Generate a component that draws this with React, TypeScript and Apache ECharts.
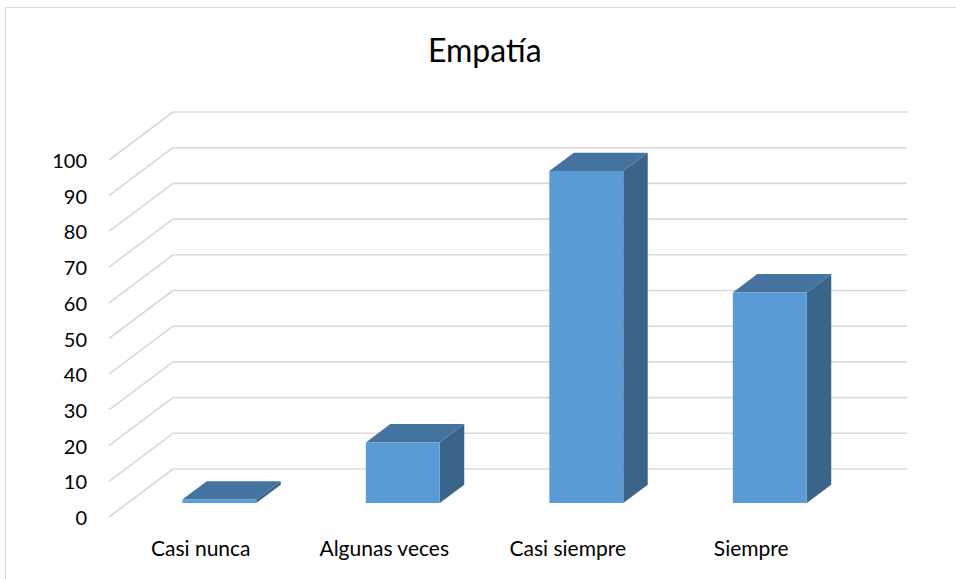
import React, { useEffect, useRef } from "react";
import * as echarts from "echarts";

const categories = ["Casi nunca", "Algunas veces", "Casi siempre", "Siempre"];
const values = [1, 17, 93, 59];
const yTicks = [0, 10, 20, 30, 40, 50, 60, 70, 80, 90, 100];
const titleText = "Empatía";

// oblique depth vector (front floor edge -> back wall)
const DX = 64;
const DY = -48;
const DEPTH_FRONT = 0.29;
const DEPTH_BACK = 0.672;
const BAR_FRAC = 0.403;

const FONT = "Lato, 'Open Sans', sans-serif";

export default function App() {
  const ref = useRef<HTMLDivElement>(null);

  useEffect(() => {
    if (!ref.current) return;
    const chart = echarts.init(ref.current, undefined, { renderer: "svg" });

    const gridRender = (params: any, api: any) => {
      const v = api.value(1);
      const p = api.coord([0, v]);
      const band = api.size([1, 0])[0];
      const left = p[0] - band / 2;
      const right = left + band * categories.length;
      const y = p[1];
      const style = { stroke: "#d9d9d9", lineWidth: 1.6 };
      return {
        type: "group",
        children: [
          { type: "line", shape: { x1: left, y1: y, x2: left + DX, y2: y + DY }, style },
          { type: "line", shape: { x1: left + DX, y1: y + DY, x2: right + DX, y2: y + DY }, style },
        ],
      };
    };

    const barRender = (params: any, api: any) => {
      const i = api.value(0);
      const v = api.value(1);
      const base = api.coord([i, 0]);
      const top = api.coord([i, v]);
      const band = api.size([1, 0])[0];
      const w = band * BAR_FRAC;
      const x0 = base[0] + DEPTH_FRONT * DX - w / 2;
      const x1 = x0 + w;
      const yb = base[1] + DEPTH_FRONT * DY;
      const yt = top[1] + DEPTH_FRONT * DY;
      const ddx = (DEPTH_BACK - DEPTH_FRONT) * DX;
      const ddy = (DEPTH_BACK - DEPTH_FRONT) * DY;
      return {
        type: "group",
        children: [
          {
            type: "polygon",
            shape: { points: [[x1, yt], [x1, yb], [x1 + ddx, yb + ddy], [x1 + ddx, yt + ddy]] },
            style: { fill: "#3a6489" },
          },
          {
            type: "polygon",
            shape: { points: [[x0, yt], [x1, yt], [x1 + ddx, yt + ddy], [x0 + ddx, yt + ddy]] },
            style: { fill: "#44739f" },
          },
          {
            type: "rect",
            shape: { x: x0, y: yt, width: w, height: yb - yt },
            style: { fill: "#5b9bd5" },
          },
        ],
      };
    };

    chart.setOption({
      animation: false,
      backgroundColor: "#ffffff",
      title: {
        text: titleText,
        left: 423,
        top: 28,
        textStyle: { fontFamily: FONT, fontSize: 32, fontWeight: "normal", color: "#000" },
      },
      graphic: [
        {
          type: "rect",
          shape: { x: 5.5, y: 7.5, width: 1000, height: 700 },
          style: { fill: "none", stroke: "#d9d9d9", lineWidth: 1 },
          silent: true,
        },
      ],
      grid: { left: 109, top: 160, width: 734, height: 357, containLabel: false },
      xAxis: {
        type: "category",
        data: categories,
        axisLine: { show: false },
        axisTick: { show: false },
        splitLine: { show: false },
        axisLabel: { margin: 20, fontSize: 21, fontFamily: FONT, color: "#000" },
      },
      yAxis: {
        type: "value",
        min: 0,
        max: 100,
        interval: 10,
        axisLine: { show: false },
        axisTick: { show: false },
        splitLine: { show: false },
        axisLabel: { margin: 22, fontSize: 20, fontFamily: FONT, color: "#000" },
      },
      series: [
        {
          type: "custom",
          silent: true,
          z: 1,
          renderItem: gridRender,
          data: yTicks.map((t) => [0, t]),
        },
        {
          type: "custom",
          z: 2,
          renderItem: barRender,
          data: values.map((v, i) => [i, v]),
        },
      ],
    });

    return () => chart.dispose();
  }, []);

  return (
    <div
      ref={ref}
      style={{ position: "fixed", left: 0, top: 0, width: 956, height: 579, background: "#fff" }}
    />
  );
}
